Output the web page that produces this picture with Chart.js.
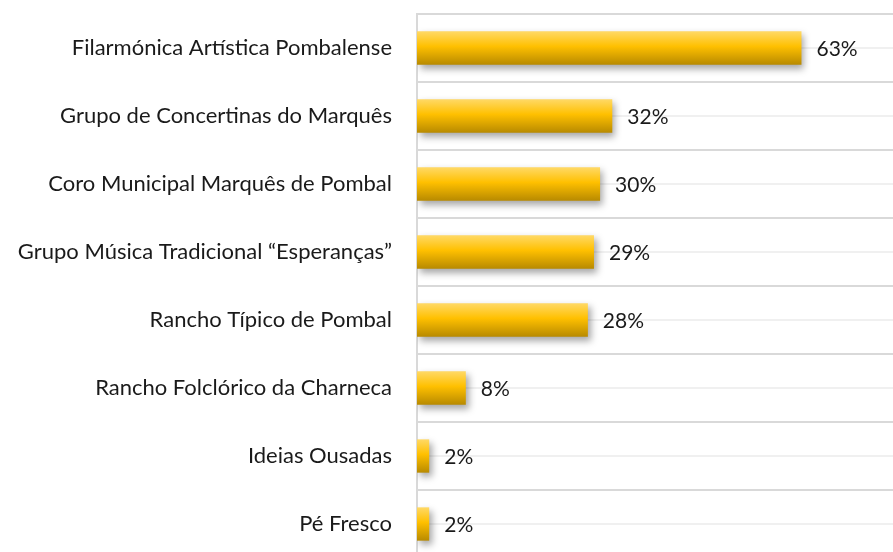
<!DOCTYPE html>
<html lang="pt">
<head>
    <meta charset="UTF-8" />
    <title>Grupos musicais</title>
    <script src="https://cdn.jsdelivr.net/npm/chart.js"></script>
    <style>
        * { box-sizing: border-box; margin: 0; padding: 0; }
        html, body { width: 893px; height: 552px; overflow: hidden; background: #fff; }
        canvas { display: block; }
    </style>
</head>
<body>
    <canvas id="barChart" width="893" height="562"></canvas>

    <script>
        const categories = [
            'Filarmónica Artística Pombalense',
            'Grupo de Concertinas do Marquês',
            'Coro Municipal Marquês de Pombal',
            'Grupo Música Tradicional “Esperanças”',
            'Rancho Típico de Pombal',
            'Rancho Folclórico da Charneca',
            'Ideias Ousadas',
            'Pé Fresco'
        ];
        const percentages = [63, 32, 30, 29, 28, 8, 2, 2];

        const FONT = 'Lato, "Open Sans", sans-serif';
        const BAR_PCT = 0.49;

        // gold gradient per bar, light on top and darker at the bottom
        function barFill(c) {
            const chart = c.chart;
            const ys = chart.scales.y;
            if (!ys || !ys.height) return '#ffc000';
            const y = ys.getPixelForValue(c.dataIndex);
            const h = ys.height / categories.length * BAR_PCT;
            const g = chart.ctx.createLinearGradient(0, y - h / 2, 0, y + h / 2);
            g.addColorStop(0, '#ffd966');
            g.addColorStop(0.45, '#ffc000');
            g.addColorStop(1, '#b88a00');
            return g;
        }

        const shadowPlugin = {
            id: 'barShadow',
            beforeDatasetsDraw(chart) {
                const ctx = chart.ctx;
                ctx.save();
                ctx.shadowColor = 'rgba(0,0,0,0.35)';
                ctx.shadowBlur = 7;
                ctx.shadowOffsetX = 3;
                ctx.shadowOffsetY = 4;
            },
            afterDatasetsDraw(chart) {
                chart.ctx.restore();
            }
        };

        const valueLabels = {
            id: 'valueLabels',
            afterDatasetsDraw(chart) {
                const ctx = chart.ctx;
                ctx.save();
                ctx.font = '21px ' + FONT;
                ctx.fillStyle = '#1a1a1a';
                ctx.textBaseline = 'middle';
                ctx.textAlign = 'left';
                chart.getDatasetMeta(0).data.forEach((bar, i) => {
                    ctx.fillText(percentages[i] + '%', bar.x + 15, bar.y + 1);
                });
                ctx.restore();
            }
        };

        const chart = new Chart(document.getElementById('barChart'), {
            type: 'bar',
            data: {
                labels: categories,
                datasets: [{
                    data: percentages,
                    backgroundColor: barFill,
                    borderWidth: 0,
                    categoryPercentage: 1,
                    barPercentage: BAR_PCT
                }]
            },
            options: {
                indexAxis: 'y',
                responsive: false,
                animation: false,
                layout: { padding: { top: 14, bottom: 4, left: 0, right: 0 } },
                plugins: {
                    legend: { display: false },
                    tooltip: { enabled: false }
                },
                scales: {
                    x: {
                        display: false,
                        min: 0,
                        max: 78
                    },
                    y: {
                        type: 'category',
                        position: 'left',
                        grid: { color: '#d9d9d9', lineWidth: 2, drawTicks: false, offset: true },
                        border: { display: true, color: '#d9d9d9', width: 2 },
                        ticks: {
                            color: '#1a1a1a',
                            padding: 25,
                            font: { family: FONT, size: 22 }
                        },
                        afterFit(scale) {
                            scale.width = 417;
                            // tick padding would otherwise shrink the plot vertically
                            scale.paddingTop = 0;
                            scale.paddingBottom = 0;
                        }
                    },
                    yc: {
                        type: 'category',
                        position: 'right',
                        offset: true,
                        labels: categories,
                        grid: { color: '#f0f0f0', lineWidth: 2, drawTicks: false, offset: false },
                        border: { display: false },
                        ticks: { display: false },
                        afterFit(scale) {
                            scale.width = 0;
                            scale.paddingTop = 0;
                            scale.paddingBottom = 0;
                        }
                    }
                }
            },
            plugins: [shadowPlugin, valueLabels]
        });
    </script>
</body>
</html>
